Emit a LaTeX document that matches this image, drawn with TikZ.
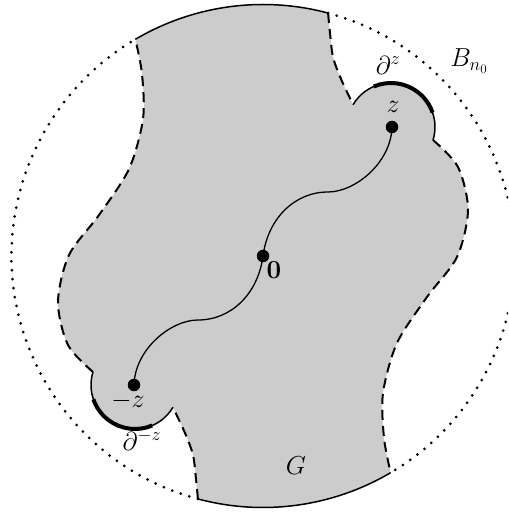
\RequirePackage{fix-cm}
\documentclass[tikz,border=0pt]{standalone}
\usepackage{amsmath}
\usetikzlibrary{calc}
\definecolor{gfill}{RGB}{204,204,204}
\begin{document}
\begin{tikzpicture}[x=1pt,y=1pt,
  solidarc/.style={line width=1.5pt},
  dashedge/.style={line width=2pt,dash pattern=on 10pt off 6pt},
  dotarc/.style={line width=3pt,line cap=round,dash pattern=on 0pt off 9pt},
  thickarc/.style={line width=4pt},
  pathcurve/.style={line width=1.3pt},
  dot/.style={circle,fill=black,inner sep=0pt,minimum size=12.5pt},
  lab/.style={inner sep=0pt,font=\fontsize{26}{30}\selectfont}]
\useasboundingbox (0,0) rectangle (508,513);
\clip (0,0) rectangle (508,513);
\coordinate (O) at (263,257);
\coordinate (Z) at (391,386);
\coordinate (mZ) at (135,128);
\coordinate (P1) at ($(O)+(120.5:251.5)$);
\coordinate (P2) at ($(O)+(75:251.5)$);
\coordinate (P3) at ($(O)+(300.5:251.5)$);
\coordinate (P4) at ($(O)+(255:251.5)$);
\coordinate (Zs) at ($(Z)+(149.5:44)$);
\coordinate (Ze) at ($(Z)+(-17.2:44)$);
\coordinate (mZs) at ($(mZ)+(329.5:44)$);
\coordinate (mZe) at ($(mZ)+(162.8:44)$);
% region G
\fill[gfill] (P1) arc[start angle=120.5,end angle=75,radius=251.5]
  -- plot[smooth] coordinates {(P2) (330,480) (333,456) (341,434) (Zs)}
  arc[start angle=149.5,end angle=-17.2,radius=44]
  -- plot[smooth] coordinates {(Ze) (458,346) (468,303) (457,256) (427,216) (397,170) (383,120) (384,75) (P3)}
  arc[start angle=300.5,end angle=255,radius=251.5]
  -- plot[smooth] coordinates {(P4) (196,34) (193,58) (185,80) (mZs)}
  arc[start angle=329.5,end angle=162.8,radius=44]
  -- plot[smooth] coordinates {(mZe) (68,168) (58,211) (69,258) (99,298) (129,344) (143,394) (142,439) (P1)}
  -- cycle;
% dotted ball boundary
\draw[dotarc] (P2) arc[start angle=75,end angle=-59.5,radius=251.5];
\draw[dotarc] (P4) arc[start angle=255,end angle=120.5,radius=251.5];
% solid arcs
\draw[solidarc] (P1) arc[start angle=120.5,end angle=75,radius=251.5];
\draw[solidarc] (P3) arc[start angle=300.5,end angle=255,radius=251.5];
\draw[solidarc] (Zs) arc[start angle=149.5,end angle=-17.2,radius=44];
\draw[solidarc] (mZs) arc[start angle=329.5,end angle=162.8,radius=44];
\draw[thickarc] ($(Z)+(113:44)$) arc[start angle=113,end angle=19,radius=44];
\draw[thickarc] ($(mZ)+(293:44)$) arc[start angle=293,end angle=199,radius=44];
% dashed edges
\draw[dashedge] plot[smooth] coordinates {(P2) (330,480) (333,456) (341,434) (Zs)};
\draw[dashedge] plot[smooth] coordinates {(Ze) (458,346) (468,303) (457,256) (427,216) (397,170) (383,120) (384,75) (P3)};
\draw[dashedge] plot[smooth] coordinates {(P4) (196,34) (193,58) (185,80) (mZs)};
\draw[dashedge] plot[smooth] coordinates {(mZe) (68,168) (58,211) (69,258) (99,298) (129,344) (143,394) (142,439) (P1)};
% points and path
\node[dot] (z) at (392,386) {};
\node[dot] (o) at (263,257) {};
\node[dot] (mz) at (134,128) {};
\draw[pathcurve] (mz.center) .. controls (135,164) and (171,193) .. (198,193)
  .. controls (231,193) and (258,219) .. (o.center)
  .. controls (268,295) and (295,321) .. (328,321)
  .. controls (355,321) and (391,350) .. (z.center);
% labels
\node[lab] (lz) at (393,406) {$z$};
\node[lab] (ldz) at (388,448) {$\partial^{z}$};
\node[lab] (lB) at (469,452) {$B_{n_0}$};
\node[lab] (lo) at (274,243) {$\mathbf{0}$};
\node[lab] (lmz) at (128,112) {$-z$};
\node[lab] (ldmz) at (142,73) {$\partial^{-z}$};
\node[lab] (lG) at (296,47) {$G$};
\end{tikzpicture}
\end{document}
